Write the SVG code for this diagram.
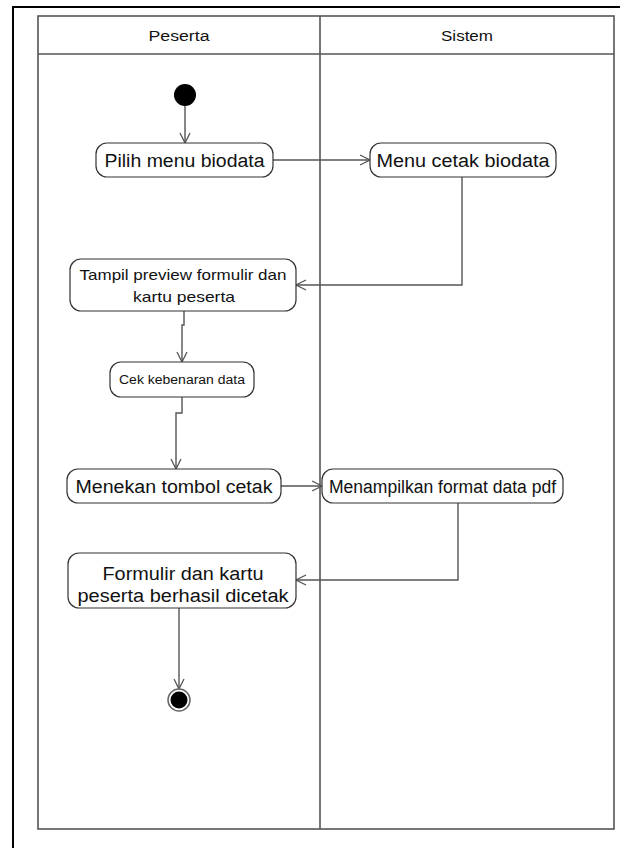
<svg xmlns="http://www.w3.org/2000/svg" width="620" height="848" viewBox="0 0 620 848">
  <style>
    .frame { fill: none; stroke: #000; stroke-width: 2; }
    .lane { fill: none; stroke: #555; stroke-width: 1.6; }
    .act { fill: #fff; stroke: #333; stroke-width: 1.2; }
    .lbl { font-family: "Liberation Sans", Arial, sans-serif; fill: #111; text-anchor: middle; }
    .flow { fill: none; stroke: #555; stroke-width: 1.4; marker-end: url(#open); }
  </style>
  <defs>
    <marker id="open" viewBox="0 0 12 12" refX="11" refY="6" markerWidth="12" markerHeight="12" markerUnits="userSpaceOnUse" orient="auto">
      <path d="M1,1 L11,6 L1,11" fill="none" stroke="#555" stroke-width="1.3"/>
    </marker>
  </defs>
  <rect width="620" height="848" fill="#fff"/>
  <!-- outer frame: top and left edges -->
  <path class="frame" d="M13,848 V7 H620"/>

  <!-- swimlanes -->
  <g id="lanes">
    <rect class="lane" x="38" y="16" width="576" height="813"/>
    <line class="lane" x1="38" y1="54" x2="614" y2="54"/>
    <line class="lane" x1="320" y1="16" x2="320" y2="829"/>
    <text class="lbl" x="179" y="41" font-size="14" textLength="61" lengthAdjust="spacingAndGlyphs">Peserta</text>
    <text class="lbl" x="467" y="41" font-size="14" textLength="52" lengthAdjust="spacingAndGlyphs">Sistem</text>
  </g>

  <g id="connectors">
    <path class="flow" d="M185,106 V143"/>
    <path class="flow" d="M273,160 H370"/>
    <path class="flow" d="M462,177 V285 H296"/>
    <path class="flow" d="M184,311 V325 H182 V362"/>
    <path class="flow" d="M182,397 V413 H176 V469"/>
    <path class="flow" d="M281,486 H322"/>
    <path class="flow" d="M458,503 V580 H296"/>
    <path class="flow" d="M179,608 V689"/>
  </g>

  <g id="start">
    <circle cx="185" cy="95" r="11" fill="#000"/>
  </g>
  <g id="pilih">
    <rect class="act" x="96" y="143" width="177" height="34" rx="11"/>
    <text class="lbl" x="184.5" y="166.5" font-size="18" textLength="160" lengthAdjust="spacingAndGlyphs">Pilih menu biodata</text>
  </g>
  <g id="menu">
    <rect class="act" x="370" y="143" width="186" height="34" rx="11"/>
    <text class="lbl" x="463" y="166.5" font-size="18" textLength="173" lengthAdjust="spacingAndGlyphs">Menu cetak biodata</text>
  </g>
  <g id="tampil">
    <rect class="act" x="70" y="259" width="226" height="52" rx="11"/>
    <text class="lbl" x="183" y="279.5" font-size="15" textLength="207" lengthAdjust="spacingAndGlyphs">Tampil preview formulir dan</text>
    <text class="lbl" x="184" y="301.5" font-size="15" textLength="102" lengthAdjust="spacingAndGlyphs">kartu peserta</text>
  </g>
  <g id="cek">
    <rect class="act" x="110" y="362" width="144" height="35" rx="11"/>
    <text class="lbl" x="182" y="384" font-size="12" textLength="126" lengthAdjust="spacingAndGlyphs">Cek kebenaran data</text>
  </g>
  <g id="menekan">
    <rect class="act" x="67" y="469" width="214" height="34" rx="11"/>
    <text class="lbl" x="174" y="492.5" font-size="18" textLength="197" lengthAdjust="spacingAndGlyphs">Menekan tombol cetak</text>
  </g>
  <g id="menampilkan">
    <rect class="act" x="322" y="469" width="241" height="34" rx="11"/>
    <text class="lbl" x="442.5" y="492.5" font-size="18" textLength="227" lengthAdjust="spacingAndGlyphs">Menampilkan format data pdf</text>
  </g>
  <g id="formulir">
    <rect class="act" x="68" y="553" width="228" height="55" rx="11"/>
    <text class="lbl" x="183" y="580" font-size="18" textLength="161" lengthAdjust="spacingAndGlyphs">Formulir dan kartu</text>
    <text class="lbl" x="183" y="602" font-size="18" textLength="211" lengthAdjust="spacingAndGlyphs">peserta berhasil dicetak</text>
  </g>
  <g id="end">
    <circle cx="179" cy="700" r="11" fill="#fff" stroke="#666" stroke-width="1.5"/>
    <circle cx="179" cy="700" r="8.5" fill="#000"/>
  </g>
</svg>
